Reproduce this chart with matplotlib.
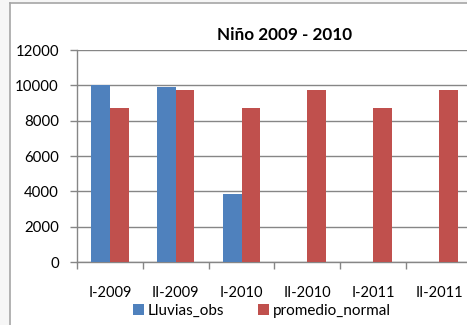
import numpy as np
import matplotlib
matplotlib.use("Agg")
import matplotlib.pyplot as plt
from matplotlib.patches import Rectangle

# Rainfall per semester vs. normal average
periodos = ["I-2009", "II-2009", "I-2010", "II-2010", "I-2011", "II-2011"]
lluvias_obs = [10000, 9880, 3850, 0, 0, 0]
promedio_normal = [8700, 9750, 8700, 9750, 8700, 9750]

plt.rcParams["font.family"] = ["Lato", "DejaVu Sans"]

fig = plt.figure(figsize=(4.67, 3.25), dpi=100)
fig.patch.set_facecolor("white")

# light strip to the left / top of the chart frame, plus the frame itself
fig.patches.append(Rectangle((0, 0), 9.5 / 467, 1, transform=fig.transFigure,
                             facecolor="#f6f6f6", edgecolor="none", zorder=0))
fig.patches.append(Rectangle((0, 1 - 3 / 325), 1, 3 / 325, transform=fig.transFigure,
                             facecolor="#f6f6f6", edgecolor="none", zorder=0))
fig.lines.append(plt.Line2D([9.5 / 467, 9.5 / 467], [0, 1 - 3 / 325],
                            transform=fig.transFigure, color="#a6a6a6", lw=1.2))
fig.lines.append(plt.Line2D([9.5 / 467, 1], [1 - 3 / 325, 1 - 3 / 325],
                            transform=fig.transFigure, color="#a6a6a6", lw=1.2))

ax = fig.add_axes([77 / 467, 63 / 325, 395 / 467, 212 / 325])
ax.set_facecolor("none")

x = np.arange(len(periodos))
w = 0.284
ax.bar(x - w / 2, lluvias_obs, w, color="#4f81bd", label="Lluvias_obs", zorder=3)
ax.bar(x + w / 2, promedio_normal, w, color="#c0504d", label="promedio_normal", zorder=3)

ax.set_xlim(-0.5, len(periodos) - 0.5)
ax.set_ylim(0, 12000)
ax.set_yticks(np.arange(0, 12001, 2000))
ax.yaxis.grid(True, color="#868686", lw=1.0, zorder=0)
ax.set_axisbelow(True)

ax.set_xticks(x)
ax.set_xticklabels(periodos, fontsize=10.5)
ax.set_xticks(np.arange(-0.5, len(periodos)), minor=True)
ax.tick_params(axis="x", which="major", length=0, pad=17)
ax.tick_params(axis="x", which="minor", length=5, color="#868686", width=1)
ax.tick_params(axis="y", length=5, color="#868686", width=1, labelsize=10.8, pad=8)

for s in ["top", "right"]:
    ax.spines[s].set_visible(False)
for s in ["left", "bottom"]:
    ax.spines[s].set_color("#868686")
    ax.spines[s].set_linewidth(1.0)

fig.text(285 / 467, 1 - 35 / 325, "Niño 2009 - 2010", ha="center", va="center",
         fontsize=12.3, fontweight="bold")

fig.legend(loc="center", bbox_to_anchor=(262 / 467, 1 - 311 / 325), ncol=2,
           frameon=False, fontsize=11, handlelength=0.7, handleheight=0.7,
           handletextpad=0.25, columnspacing=2.2, borderpad=0)

fig.savefig("out.png", dpi=100)
